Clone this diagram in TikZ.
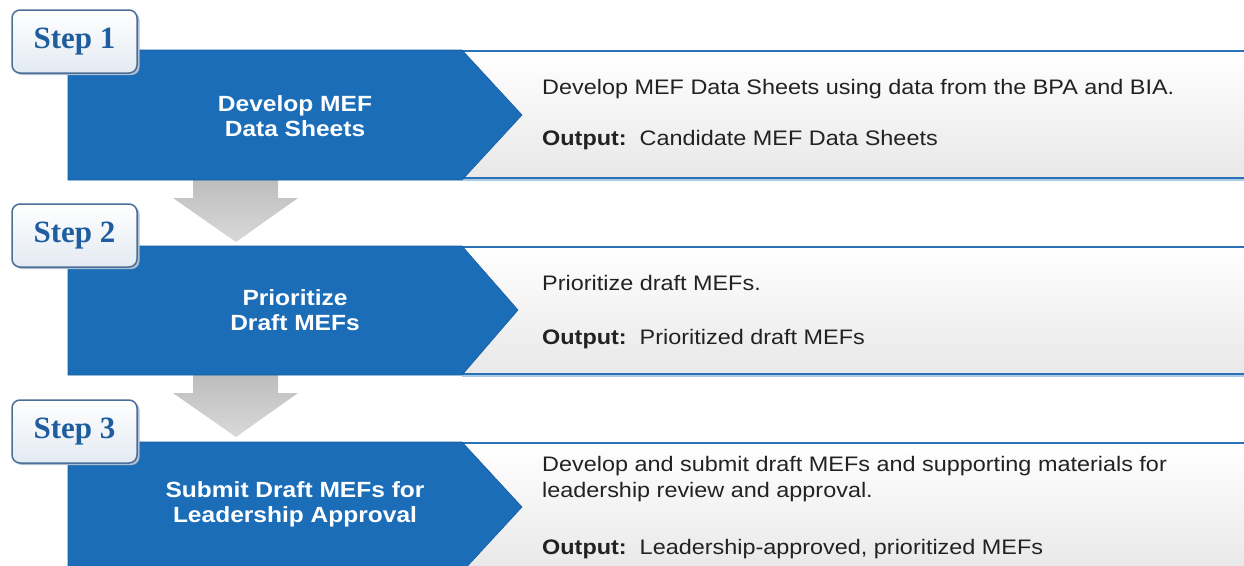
\documentclass[tikz,border=0pt]{standalone}
\usepackage{fontspec}
\setmainfont{Liberation Sans}
\newfontfamily\bodyfont[FakeStretch=1.115]{Liberation Sans}
\newfontfamily\stepfont{Liberation Serif}
\definecolor{mainblue}{HTML}{1B6DB8}
\definecolor{edgeblue}{HTML}{2A72B6}
\definecolor{shadowblue}{HTML}{A9CBE8}
\definecolor{badgeborder}{HTML}{4B6F96}
\definecolor{badgebot}{HTML}{E3EAF2}
\definecolor{steptext}{HTML}{1F5E9E}
\definecolor{desctext}{HTML}{222222}
\tikzset{
  stepbadge/.style={draw=badgeborder, line width=1.5pt, rounded corners=8pt,
    top color=white, bottom color=badgebot,
    minimum width=125pt, minimum height=63pt, inner sep=0pt,
    font=\stepfont\bfseries\fontsize{31}{31}\selectfont, text=steptext},
  badgeshadow/.style={fill=badgeborder!45, rounded corners=8pt},
  bluebox/.style={fill=mainblue, draw=mainblue!85!black, line width=0.6pt},
  whitebox/.style={top color=white, bottom color=black!9},
  boxedge/.style={draw=edgeblue, line width=2.2pt},
  boxshadow/.style={draw=shadowblue, line width=1.5pt},
  greyarrow/.style={top color=black!26, bottom color=black!15},
  bluetext/.style={text=white, align=center, inner sep=0pt,
    font=\bodyfont\bfseries\fontsize{22}{25}\selectfont},
  desc/.style={text=desctext, inner sep=0pt, anchor=base west,
    font=\bodyfont\fontsize{21}{26}\selectfont},
}
\begin{document}
\begin{tikzpicture}[x=1pt,y=-1pt]
\clip (0,0) rectangle (1244,565);
\fill[white] (0,0) rectangle (1244,565);

% grey arrows between steps
\path[greyarrow] (193,178) -- (278,178) -- (278,198) -- (298,198) -- (236,242)
  -- (173,198) -- (193,198) -- cycle;
\path[greyarrow] (193,374) -- (278,374) -- (278,393) -- (298,393) -- (236,437)
  -- (173,393) -- (193,393) -- cycle;

% ---- Step 1 ----
\fill[whitebox] (462,51) rectangle (1250,178);
\draw[boxshadow] (462,180) -- (1250,180);
\draw[boxedge] (462,51) -- (1250,51);
\draw[boxedge] (462,178) -- (1250,178);
\path[bluebox] (68,50) -- (462,50) -- (522,115) -- (462,180) -- (68,180) -- cycle;
\fill[badgeshadow] (14,12) rectangle (139.5,75);
\node[stepbadge] (s1) at (74.5,41.5) {Step 1};
\node[bluetext] (t1) at (295,116) {Develop MEF\\Data Sheets};
\node[desc] (d1) at (542,94) {Develop MEF Data Sheets using data from the BPA and BIA.};
\node[desc] (o1) at (542,145) {\textbf{Output:}\ \ Candidate MEF Data Sheets};

% ---- Step 2 ----
\fill[whitebox] (462,247) rectangle (1250,374);
\draw[boxshadow] (462,376) -- (1250,376);
\draw[boxedge] (462,247) -- (1250,247);
\draw[boxedge] (462,374) -- (1250,374);
\path[bluebox] (68,246) -- (462,246) -- (518,310) -- (462,375) -- (68,375) -- cycle;
\fill[badgeshadow] (14,206) rectangle (139.5,269);
\node[stepbadge] (s2) at (74.5,235.5) {Step 2};
\node[bluetext] (t2) at (295,310) {Prioritize\\Draft MEFs};
\node[desc] (d2) at (542,290) {Prioritize draft MEFs.};
\node[desc] (o2) at (542,344) {\textbf{Output:}\ \ Prioritized draft MEFs};

% ---- Step 3 ----
\fill[whitebox] (462,443) rectangle (1250,572);
\draw[boxedge] (462,443) -- (1250,443);
\path[bluebox] (68,442) -- (462,442) -- (522,507) -- (462,572) -- (68,572) -- cycle;
\fill[badgeshadow] (14,402) rectangle (139.5,465);
\node[stepbadge] (s3) at (74.5,431.5) {Step 3};
\node[bluetext] (t3) at (295,504) {Submit Draft MEFs for\\Leadership Approval};
\node[desc] (d3a) at (542,471) {Develop and submit draft MEFs and supporting materials for};
\node[desc] (d3b) at (542,497) {leadership review and approval.};
\node[desc] (o3) at (542,554) {\textbf{Output:}\ \ Leadership-approved, prioritized MEFs};
\end{tikzpicture}
\end{document}
